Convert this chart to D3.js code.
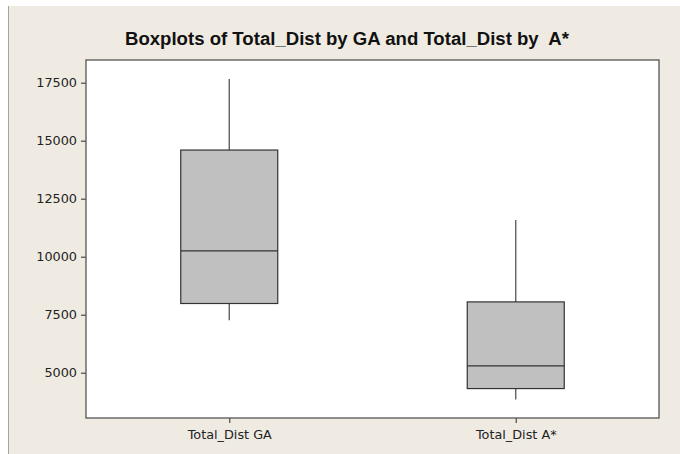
<!DOCTYPE html>
<html><head><meta charset="utf-8">
<script src="https://cdn.jsdelivr.net/npm/d3@7"></script>
<style>html,body{margin:0;padding:0;background:#fff;}</style>
</head><body>
<script>
const categories = ["Total_Dist GA", "Total_Dist A*"];
const whiskerLow = [7265, 3844];
const q1 = [7985, 4318];
const median = [10254, 5293];
const q3 = [14599, 8054];
const whiskerHigh = [17662, 11579];
const yTicks = [5000, 7500, 10000, 12500, 15000, 17500];
const title = "Boxplots of Total_Dist by GA and Total_Dist by  A*";

const W = 680, H = 454;
const svg = d3.select("body").append("svg").attr("width", W).attr("height", H);
svg.append("rect").attr("x",0).attr("y",0).attr("width",W).attr("height",H).attr("fill","#fff");
svg.append("rect").attr("x",8).attr("y",6).attr("width",W-8).attr("height",H-6).attr("fill","#efebe2");
svg.append("line").attr("x1",8.5).attr("x2",8.5).attr("y1",6).attr("y2",H).attr("stroke","#a8a49c").attr("stroke-width",1);

const L = 86, R = 659, T = 60, B = 418;
const y = d3.scaleLinear().domain([3050, 18480]).range([B, T]);
const x = d3.scalePoint().domain(categories).range([L, R]).padding(0.5);
const bw = 97;

svg.append("rect").attr("x",L).attr("y",T).attr("width",R-L).attr("height",B-T).attr("fill","#fff");

svg.append("text").attr("x", 347).attr("y", 45).attr("text-anchor","middle")
  .style("white-space","pre").attr("xml:space","preserve")
  .attr("font-family","'Liberation Sans Narrow','Liberation Sans',Arial,sans-serif").attr("font-weight","bold")
  .attr("font-size", 17.5).attr("fill","#111")
  .attr("textLength", 444).attr("lengthAdjust","spacingAndGlyphs").text(title);

const g = svg.append("g");
categories.forEach((c, i) => {
  const cx = x(c);
  g.append("line").attr("x1",cx).attr("x2",cx).attr("y1",y(whiskerHigh[i])).attr("y2",y(q3[i])).attr("stroke","#555").attr("stroke-width",1.3);
  g.append("line").attr("x1",cx).attr("x2",cx).attr("y1",y(q1[i])).attr("y2",y(whiskerLow[i])).attr("stroke","#555").attr("stroke-width",1.3);
  g.append("rect").attr("x",cx-bw/2).attr("y",y(q3[i])).attr("width",bw).attr("height",y(q1[i])-y(q3[i]))
    .attr("fill","#c0c0c0").attr("stroke","#333").attr("stroke-width",1.2);
  g.append("line").attr("x1",cx-bw/2).attr("x2",cx+bw/2).attr("y1",y(median[i])).attr("y2",y(median[i])).attr("stroke","#333").attr("stroke-width",1.2);
});

svg.append("rect").attr("x",L).attr("y",T).attr("width",R-L).attr("height",B-T).attr("fill","none").attr("stroke","#555").attr("stroke-width",1.3);

const yAxis = svg.append("g").attr("transform",`translate(${L},0)`)
  .call(d3.axisLeft(y).tickValues(yTicks).tickFormat(d3.format("d")).tickSize(5).tickSizeOuter(0).tickPadding(4));
yAxis.select(".domain").remove();
yAxis.selectAll("line").attr("stroke","#555").attr("stroke-width",1.3);
yAxis.selectAll("text").attr("font-family","'DejaVu Sans',Verdana,sans-serif").attr("font-size",12.8).attr("fill","#222");

const xAxis = svg.append("g").attr("transform",`translate(0,${B})`)
  .call(d3.axisBottom(x).tickSize(5).tickSizeOuter(0).tickPadding(7));
xAxis.select(".domain").remove();
xAxis.selectAll("line").attr("stroke","#555").attr("stroke-width",1.3);
xAxis.selectAll("text").attr("font-family","'DejaVu Sans',Verdana,sans-serif").attr("font-size",12.8).attr("fill","#222");
</script>
</body></html>
